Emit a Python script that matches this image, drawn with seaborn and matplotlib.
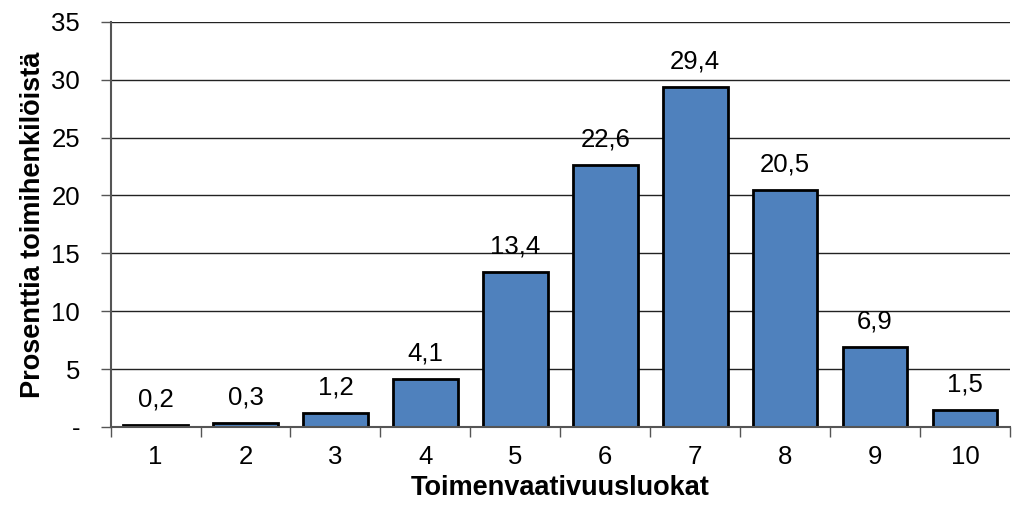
import matplotlib
matplotlib.use("Agg")
import matplotlib.pyplot as plt
import seaborn as sns
import pandas as pd
from matplotlib.ticker import FuncFormatter, FixedLocator

categories = ["1", "2", "3", "4", "5", "6", "7", "8", "9", "10"]
values = [0.2, 0.3, 1.2, 4.1, 13.4, 22.6, 29.4, 20.5, 6.9, 1.5]
value_labels = ["0,2", "0,3", "1,2", "4,1", "13,4", "22,6", "29,4", "20,5", "6,9", "1,5"]
y_ticks = [0, 5, 10, 15, 20, 25, 30, 35]

sns.set_theme(style="white")
plt.rcParams['font.family'] = ['Liberation Sans', 'DejaVu Sans']
plt.rcParams['text.color'] = 'black'
plt.rcParams['axes.labelcolor'] = 'black'
plt.rcParams['xtick.color'] = 'black'
plt.rcParams['ytick.color'] = 'black'

FS = 18.5
FSL = 19.5

df = pd.DataFrame({"cat": categories, "val": values})

fig = plt.figure(figsize=(10.15, 5.07), dpi=100)
ax = fig.add_axes([0.109, 0.158, 0.886, 0.799])

sns.barplot(data=df, x="cat", y="val", color="#4F81BD", saturation=1,
            width=0.72, edgecolor="black", linewidth=2, ax=ax, zorder=3)

for i, (v, lab) in enumerate(zip(values, value_labels)):
    ax.text(i, v + 1.6, lab, ha="center", va="baseline", fontsize=FS, color="black")

ax.set_ylim(0, 35)
ax.set_xlim(-0.5, len(categories) - 0.5)
ax.yaxis.set_major_locator(FixedLocator(y_ticks))
ax.yaxis.set_major_formatter(FuncFormatter(lambda v, p: "-" if v == 0 else f"{int(v)}"))
ax.grid(axis="y", color="#222222", linewidth=1, zorder=0)
ax.grid(axis="x", visible=False)

for s in ["top", "right"]:
    ax.spines[s].set_visible(False)
for s in ["left", "bottom"]:
    ax.spines[s].set_visible(True)
    ax.spines[s].set_color("#555555")
    ax.spines[s].set_linewidth(1.5)
ax.spines["bottom"].set_zorder(4)

ax.tick_params(axis="y", which="major", length=7, width=1, color="#555555", direction="out",
               labelsize=FS, labelcolor="black", pad=15, left=True)
ax.tick_params(axis="x", which="major", length=0, labelsize=FS, labelcolor="black", pad=13)
ax.set_xticks(range(len(categories)))
ax.set_xticklabels(categories)
ax.set_xticks([i + 0.5 for i in range(-1, len(categories))], minor=True)
ax.tick_params(axis="x", which="minor", length=7, width=1, color="#555555", direction="out", bottom=True)

ax.set_xlabel("Toimenvaativuusluokat", fontsize=FSL, fontweight="bold", labelpad=4, color="black")
ax.set_ylabel("Prosenttia toimihenkilöistä", fontsize=FSL, fontweight="bold", labelpad=4, color="black")

fig.savefig("out.png", dpi=100)
